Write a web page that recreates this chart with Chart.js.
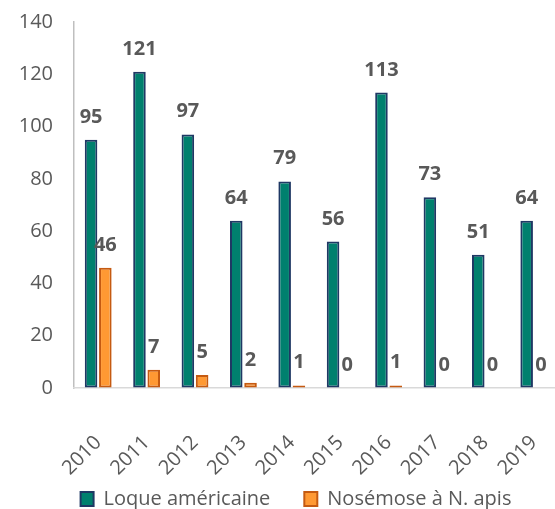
<!DOCTYPE html>
<html><head><meta charset="utf-8">
<script src="https://cdn.jsdelivr.net/npm/chart.js@4"></script>
<style>html,body{margin:0;padding:0;background:#fff;overflow:hidden;width:555px;height:509px}#wrap{width:555px;height:509px;overflow:hidden}</style>
</head><body><div id="wrap"><canvas id="c" width="562" height="509"></canvas></div>
<script>
const categories = ["2010","2011","2012","2013","2014","2015","2016","2017","2018","2019"];
const loqueAmericaine = [95,121,97,64,79,56,113,73,51,64];
const nosemose = [46,7,5,2,1,0,1,0,0,0];
const yTicks = [0,20,40,60,80,100,120,140];
const seriesNames = ["Loque américaine","Nosémose à N. apis"];

const FONT = "'Open Sans', 'Liberation Sans', sans-serif";
const GRAY = "#595959";
const CLEAR = "rgba(0,0,0,0)";
const H = 509, PLOT_BOTTOM = 388, BOTTOM_PAD = -30, LEGEND_PAD = 34, LEGEND_Y = 499;

const labelPlugin = {
  id: "barLabels",
  afterDatasetsDraw(chart) {
    const ctx = chart.ctx;
    ctx.save();
    ctx.font = "bold 20px " + FONT;
    ctx.fillStyle = GRAY;
    ctx.textAlign = "center";
    ctx.textBaseline = "alphabetic";
    chart.data.datasets.forEach((ds, i) => {
      const meta = chart.getDatasetMeta(i);
      meta.data.forEach((el, j) => {
        ctx.fillText(String(ds.data[j]), el.x, el.y - 17);
      });
    });
    ctx.restore();
  }
};

const legendShift = {
  id: "legendShift",
  afterLayout(chart) {
    const lg = chart.legend;
    if (!lg) return;
    const h = lg.bottom - lg.top;
    const itemH = h - LEGEND_PAD - 10;
    lg.top = LEGEND_Y - LEGEND_PAD - itemH / 2;
    lg.bottom = lg.top + h;
    lg.left += 12; lg.right += 12;
  }
};

new Chart(document.getElementById("c"), {
  type: "bar",
  data: {
    labels: categories,
    datasets: [
      { label: seriesNames[0], data: loqueAmericaine, backgroundColor: "#00806E", borderColor: "#1F3864", borderWidth: 2, borderSkipped: false, categoryPercentage: 0.59, barPercentage: 0.88 },
      { label: seriesNames[1], data: nosemose, backgroundColor: "#FF9933", borderColor: "#C55A11", borderWidth: 2, borderSkipped: false, categoryPercentage: 0.59, barPercentage: 0.88 }
    ]
  },
  options: {
    responsive: false,
    animation: false,
    layout: { padding: { left: 10, right: 4, top: 22, bottom: BOTTOM_PAD } },
    scales: {
      y: {
        min: 0, max: 140,
        afterBuildTicks(scale) { scale.ticks = yTicks.map(v => ({ value: v })); },
        afterFit(scale) { scale.width = 64; },
        grid: { display: true, drawOnChartArea: false, drawTicks: true, tickLength: 21, tickColor: CLEAR, color: CLEAR },
        border: { display: true, color: "#BFBFBF", width: 1.5 },
        ticks: { color: GRAY, font: { family: FONT, size: 20 }, padding: 0 }
      },
      x: {
        afterFit(scale) {
          const lg = scale.chart.legend;
          scale.height = H - BOTTOM_PAD - PLOT_BOTTOM - (lg ? lg.height : 0);
        },
        grid: { display: true, drawOnChartArea: false, drawTicks: true, tickLength: 43, tickColor: CLEAR, color: CLEAR },
        border: { display: true, color: "#D9D9D9", width: 1.5 },
        ticks: { color: GRAY, font: { family: FONT, size: 20 }, minRotation: 45, maxRotation: 45, padding: 0 }
      }
    },
    plugins: {
      legend: {
        position: "bottom",
        labels: { color: GRAY, font: { family: FONT, size: 20 }, boxWidth: 13, boxHeight: 14, padding: LEGEND_PAD }
      },
      tooltip: { enabled: false }
    }
  },
  plugins: [labelPlugin, legendShift]
});
</script></body></html>
